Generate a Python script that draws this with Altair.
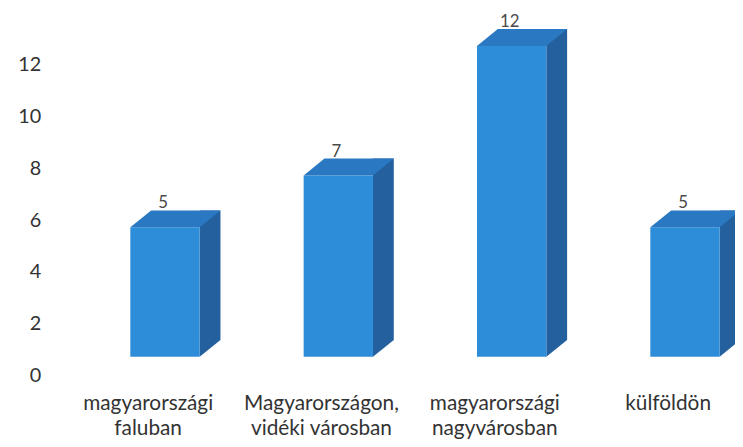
import altair as alt
import pandas as pd

categories = ["magyarországi\nfaluban", "Magyarországon,\nvidéki városban",
              "magyarországi\nnagyvárosban", "külföldön"]
values = [5, 7, 12, 5]
label_texts = ["5", "7", "12", "5"]

df = pd.DataFrame({"cat": categories, "val": values, "lab": label_texts})

FRONT = "#2E8DD8"
TOP = "#2B78C2"
SIDE = "#24609E"
DX, DY = 21, 17
W = 70
OFF = 17

x = alt.X("cat:N", sort=None,
          scale=alt.Scale(range=[0, 700], paddingInner=0, paddingOuter=0),
          axis=alt.Axis(title=None, domain=False, ticks=False, labelAngle=0,
                        labelFont="Lato", labelFontSize=21, labelColor="#333333",
                        labelPadding=36, labelLineHeight=26,
                        labelExpr="split(datum.label, '\\n')"))
y = alt.Y("val:Q", scale=alt.Scale(domain=[0, 13]),
          axis=alt.Axis(title=None, domain=False, ticks=False, grid=False,
                        values=[0, 2, 4, 6, 8, 10, 12],
                        labelFont="Lato", labelFontSize=20, labelColor="#333333",
                        labelPadding=21, labelOffset=19))

base = alt.Chart(df)

side = base.mark_bar(color=SIDE, size=DX, xOffset=OFF + W / 2 + DX / 2,
                     yOffset=-DY, y2Offset=-DY).encode(x=x, y=y)
side_bottom = base.mark_point(
    shape=f"M{OFF + W/2},{-DY} L{OFF + W/2 + DX},{-DY} L{OFF + W/2},0 Z",
    size=4, filled=True, opacity=1, color=SIDE, strokeWidth=0
).encode(x=x, y=alt.datum(0))
front = base.mark_bar(color=FRONT, size=W, xOffset=OFF).encode(x=x, y=y)
top = base.mark_point(
    shape=f"M{OFF - W/2},0 L{OFF + W/2},0 L{OFF + W/2 + DX},{-DY} L{OFF - W/2 + DX},{-DY} Z",
    size=4, filled=True, opacity=1, color=TOP, strokeWidth=0
).encode(x=x, y=y)
labels = base.mark_text(font="Lato", fontSize=17, color="#4a4a4a",
                        dx=OFF - 2, dy=-24).encode(x=x, y=y, text="lab:N")

chart = alt.layer(side, side_bottom, front, top, labels).properties(
    width=680, height=340,
    background="white",
    autosize=alt.AutoSizeParams(type="none"),
    padding={"left": 54, "top": 10, "right": 0, "bottom": 85},
).configure_view(stroke=None, strokeWidth=0)

chart.save("out.html", embed_options={"renderer": "svg", "actions": False})
